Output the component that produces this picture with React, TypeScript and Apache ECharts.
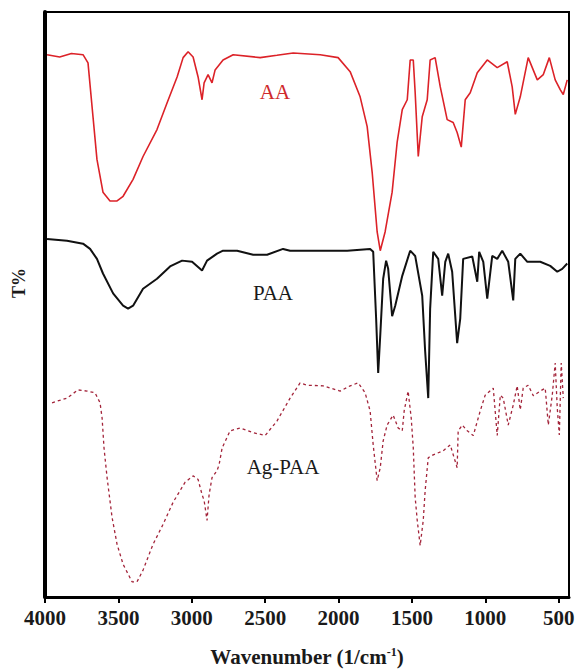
import React, { useEffect, useRef } from "react";
import * as echarts from "echarts";

const xTicks = [4000, 3500, 3000, 2500, 2000, 1500, 1000, 500];

const aaData: [number, number][] = [
  [3986, 92.7], [3900, 92.3], [3820, 92.9], [3741, 92.7], [3707, 91.3], [3673, 82.1], [3646, 74.8],
  [3605, 69.2], [3557, 67.7], [3509, 67.7], [3468, 68.5], [3400, 71.4], [3332, 75.3], [3237, 79.9],
  [3168, 84.5], [3100, 88.9], [3059, 92.2], [3025, 93.2], [2991, 92.3], [2957, 88.9], [2930, 85.0],
  [2916, 87.9], [2889, 89.3], [2862, 87.9], [2841, 90.1], [2787, 91.8], [2718, 92.7], [2534, 92.2],
  [2420, 92.6], [2309, 93.0], [2125, 92.7], [2003, 92.2], [1921, 89.8], [1853, 85.5], [1805, 80.4],
  [1771, 72.6], [1737, 62.4], [1716, 59.2], [1683, 62.4], [1635, 69.2], [1601, 77.7], [1566, 83.3],
  [1532, 85.0], [1512, 91.8], [1491, 91.8], [1478, 86.2], [1457, 75.3], [1430, 82.1], [1396, 85.0],
  [1376, 91.8], [1342, 92.2], [1307, 87.2], [1260, 81.6], [1219, 81.1], [1192, 79.4], [1164, 76.9],
  [1137, 85.0], [1103, 86.2], [1055, 89.6], [987, 91.8], [919, 90.5], [851, 91.5], [817, 87.2],
  [796, 82.5], [762, 85.5], [708, 92.2], [646, 88.4], [605, 89.3], [564, 92.2], [524, 88.4],
  [489, 86.7], [469, 85.9], [442, 88.4],
];

const paaData: [number, number][] = [
  [3986, 61.2], [3850, 60.9], [3741, 60.4], [3693, 59.5], [3646, 57.8], [3605, 55.3], [3536, 51.9],
  [3468, 49.8], [3434, 49.3], [3400, 49.8], [3332, 52.7], [3237, 54.4], [3148, 56.5], [3066, 57.5],
  [2998, 57.3], [2930, 55.8], [2896, 57.5], [2828, 58.7], [2787, 59.2], [2691, 59.2], [2582, 58.5],
  [2487, 58.5], [2378, 59.5], [2330, 59.2], [2173, 59.2], [1941, 59.2], [1785, 59.5], [1764, 59.0],
  [1744, 47.6], [1730, 38.3], [1716, 44.7], [1696, 54.4], [1676, 57.5], [1662, 56.1], [1635, 48.0],
  [1614, 49.8], [1566, 54.9], [1512, 59.2], [1478, 58.3], [1430, 51.5], [1410, 42.0], [1389, 34.0],
  [1376, 49.3], [1355, 59.0], [1321, 57.8], [1294, 51.5], [1273, 57.3], [1253, 58.7], [1226, 55.6],
  [1192, 43.4], [1171, 47.6], [1151, 57.8], [1089, 58.2], [1055, 53.9], [1042, 59.0], [1014, 57.3],
  [987, 51.0], [953, 58.3], [919, 57.8], [885, 59.2], [844, 57.3], [810, 50.7], [796, 57.8],
  [762, 58.7], [714, 57.3], [626, 57.3], [558, 56.6], [510, 55.6], [476, 56.1], [442, 57.0],
];

const agPaaData: [number, number][] = [
  [3952, 33.2], [3850, 34.0], [3775, 35.4], [3714, 35.2], [3659, 34.9], [3625, 33.2], [3611, 30.6],
  [3598, 25.5], [3577, 20.4], [3543, 13.6], [3509, 9.0], [3468, 5.6], [3407, 2.6], [3373, 2.6],
  [3332, 4.6], [3264, 9.0], [3196, 12.4], [3127, 16.2], [3046, 19.6], [2991, 20.7], [2957, 20.1],
  [2930, 17.5], [2916, 16.5], [2896, 13.1], [2882, 17.5], [2862, 20.4], [2828, 21.6], [2814, 22.6],
  [2793, 25.5], [2739, 28.4], [2671, 28.9], [2582, 28.1], [2500, 27.6], [2419, 30.1], [2330, 34.0],
  [2262, 36.6], [2214, 36.2], [2105, 36.1], [1989, 35.2], [1921, 36.1], [1866, 36.6], [1819, 34.9],
  [1785, 31.8], [1764, 26.0], [1737, 19.9], [1716, 22.1], [1696, 26.7], [1669, 29.4], [1628, 31.1],
  [1594, 28.9], [1566, 28.4], [1553, 31.8], [1526, 35.2], [1505, 30.6], [1491, 25.5], [1478, 17.0],
  [1464, 13.1], [1444, 8.8], [1423, 13.1], [1410, 18.2], [1389, 23.8], [1355, 24.3], [1287, 25.0],
  [1239, 26.0], [1192, 22.1], [1185, 28.4], [1157, 29.4], [1123, 28.4], [1082, 27.6], [1035, 31.8],
  [1001, 34.5], [946, 35.7], [919, 27.6], [898, 34.5], [878, 34.0], [844, 29.4], [810, 32.8],
  [783, 36.1], [762, 32.0], [742, 35.7], [708, 36.2], [673, 34.4], [626, 35.2], [592, 35.7],
  [571, 29.4], [544, 34.5], [524, 40.0], [510, 32.3], [496, 27.7], [483, 40.0], [469, 34.0],
];

const seriesNames = ["AA", "PAA", "Ag-PAA"];

export default function App() {
  const ref = useRef<HTMLDivElement>(null);
  useEffect(() => {
    document.body.style.margin = "0";
    const chart = echarts.init(ref.current!, null, { renderer: "svg" });
    const serif = '"Liberation Serif", "Times New Roman", serif';
    chart.setOption({
      animation: false,
      backgroundColor: "#fff",
      grid: {
        left: 45,
        right: 9,
        top: 12,
        bottom: 71,
        show: true,
        borderColor: "#000",
        borderWidth: 2,
      },
      xAxis: {
        type: "value",
        inverse: true,
        min: 430,
        max: 4000,
        axisLine: { show: true, onZero: false, lineStyle: { color: "#000", width: 3 } },
        axisTick: { show: true, customValues: xTicks, length: 6, lineStyle: { color: "#000", width: 2 } },
        axisLabel: {
          customValues: xTicks,
          formatter: (v: number) => String(v),
          margin: 10,
          fontFamily: serif,
          fontWeight: "bold",
          fontSize: 21,
          color: "#1a1a1a",
        },
        splitLine: { show: false },
        name: "Wavenumber (1/cm{sup|-1})",
        nameLocation: "middle",
        nameGap: 49,
        nameTextStyle: {
          fontFamily: serif,
          fontWeight: "bold",
          fontSize: 21,
          color: "#1a1a1a",
          rich: {
            sup: {
              fontFamily: serif,
              fontWeight: "bold",
              fontSize: 12,
              color: "#1a1a1a",
              verticalAlign: "top",
              lineHeight: 12,
            },
          },
        },
      },
      yAxis: {
        type: "value",
        min: 0,
        max: 100,
        axisLine: { show: true, onZero: false, lineStyle: { color: "#000", width: 4 } },
        axisTick: { show: false },
        axisLabel: { show: false },
        splitLine: { show: false },
      },
      series: [
        {
          name: seriesNames[0],
          type: "line",
          data: aaData,
          symbol: "none",
          silent: true,
          lineStyle: { color: "#dc2228", width: 1.6 },
        },
        {
          name: seriesNames[1],
          type: "line",
          data: paaData,
          symbol: "none",
          silent: true,
          lineStyle: { color: "#111", width: 2 },
        },
        {
          name: seriesNames[2],
          type: "line",
          data: agPaaData,
          symbol: "none",
          silent: true,
          lineStyle: { color: "#a3243a", width: 1.3, type: [3, 3] },
        },
      ],
      graphic: [
        {
          type: "text",
          x: 275,
          y: 92,
          style: { text: seriesNames[0], fill: "#cf2a2c", font: `21px ${serif}`, align: "center", verticalAlign: "middle" },
        },
        {
          type: "text",
          x: 273,
          y: 293,
          style: { text: seriesNames[1], fill: "#1a1a1a", font: `21px ${serif}`, align: "center", verticalAlign: "middle" },
        },
        {
          type: "text",
          x: 283,
          y: 467,
          style: { text: seriesNames[2], fill: "#1a1a1a", font: `21px ${serif}`, align: "center", verticalAlign: "middle" },
        },
        {
          type: "text",
          x: 19,
          y: 283,
          rotation: Math.PI / 2,
          style: { text: "T%", fill: "#1a1a1a", font: `bold 18px ${serif}`, align: "center", verticalAlign: "middle" },
        },
      ],
    });
    return () => chart.dispose();
  }, []);
  return <div ref={ref} style={{ width: 578, height: 672 }} />;
}
